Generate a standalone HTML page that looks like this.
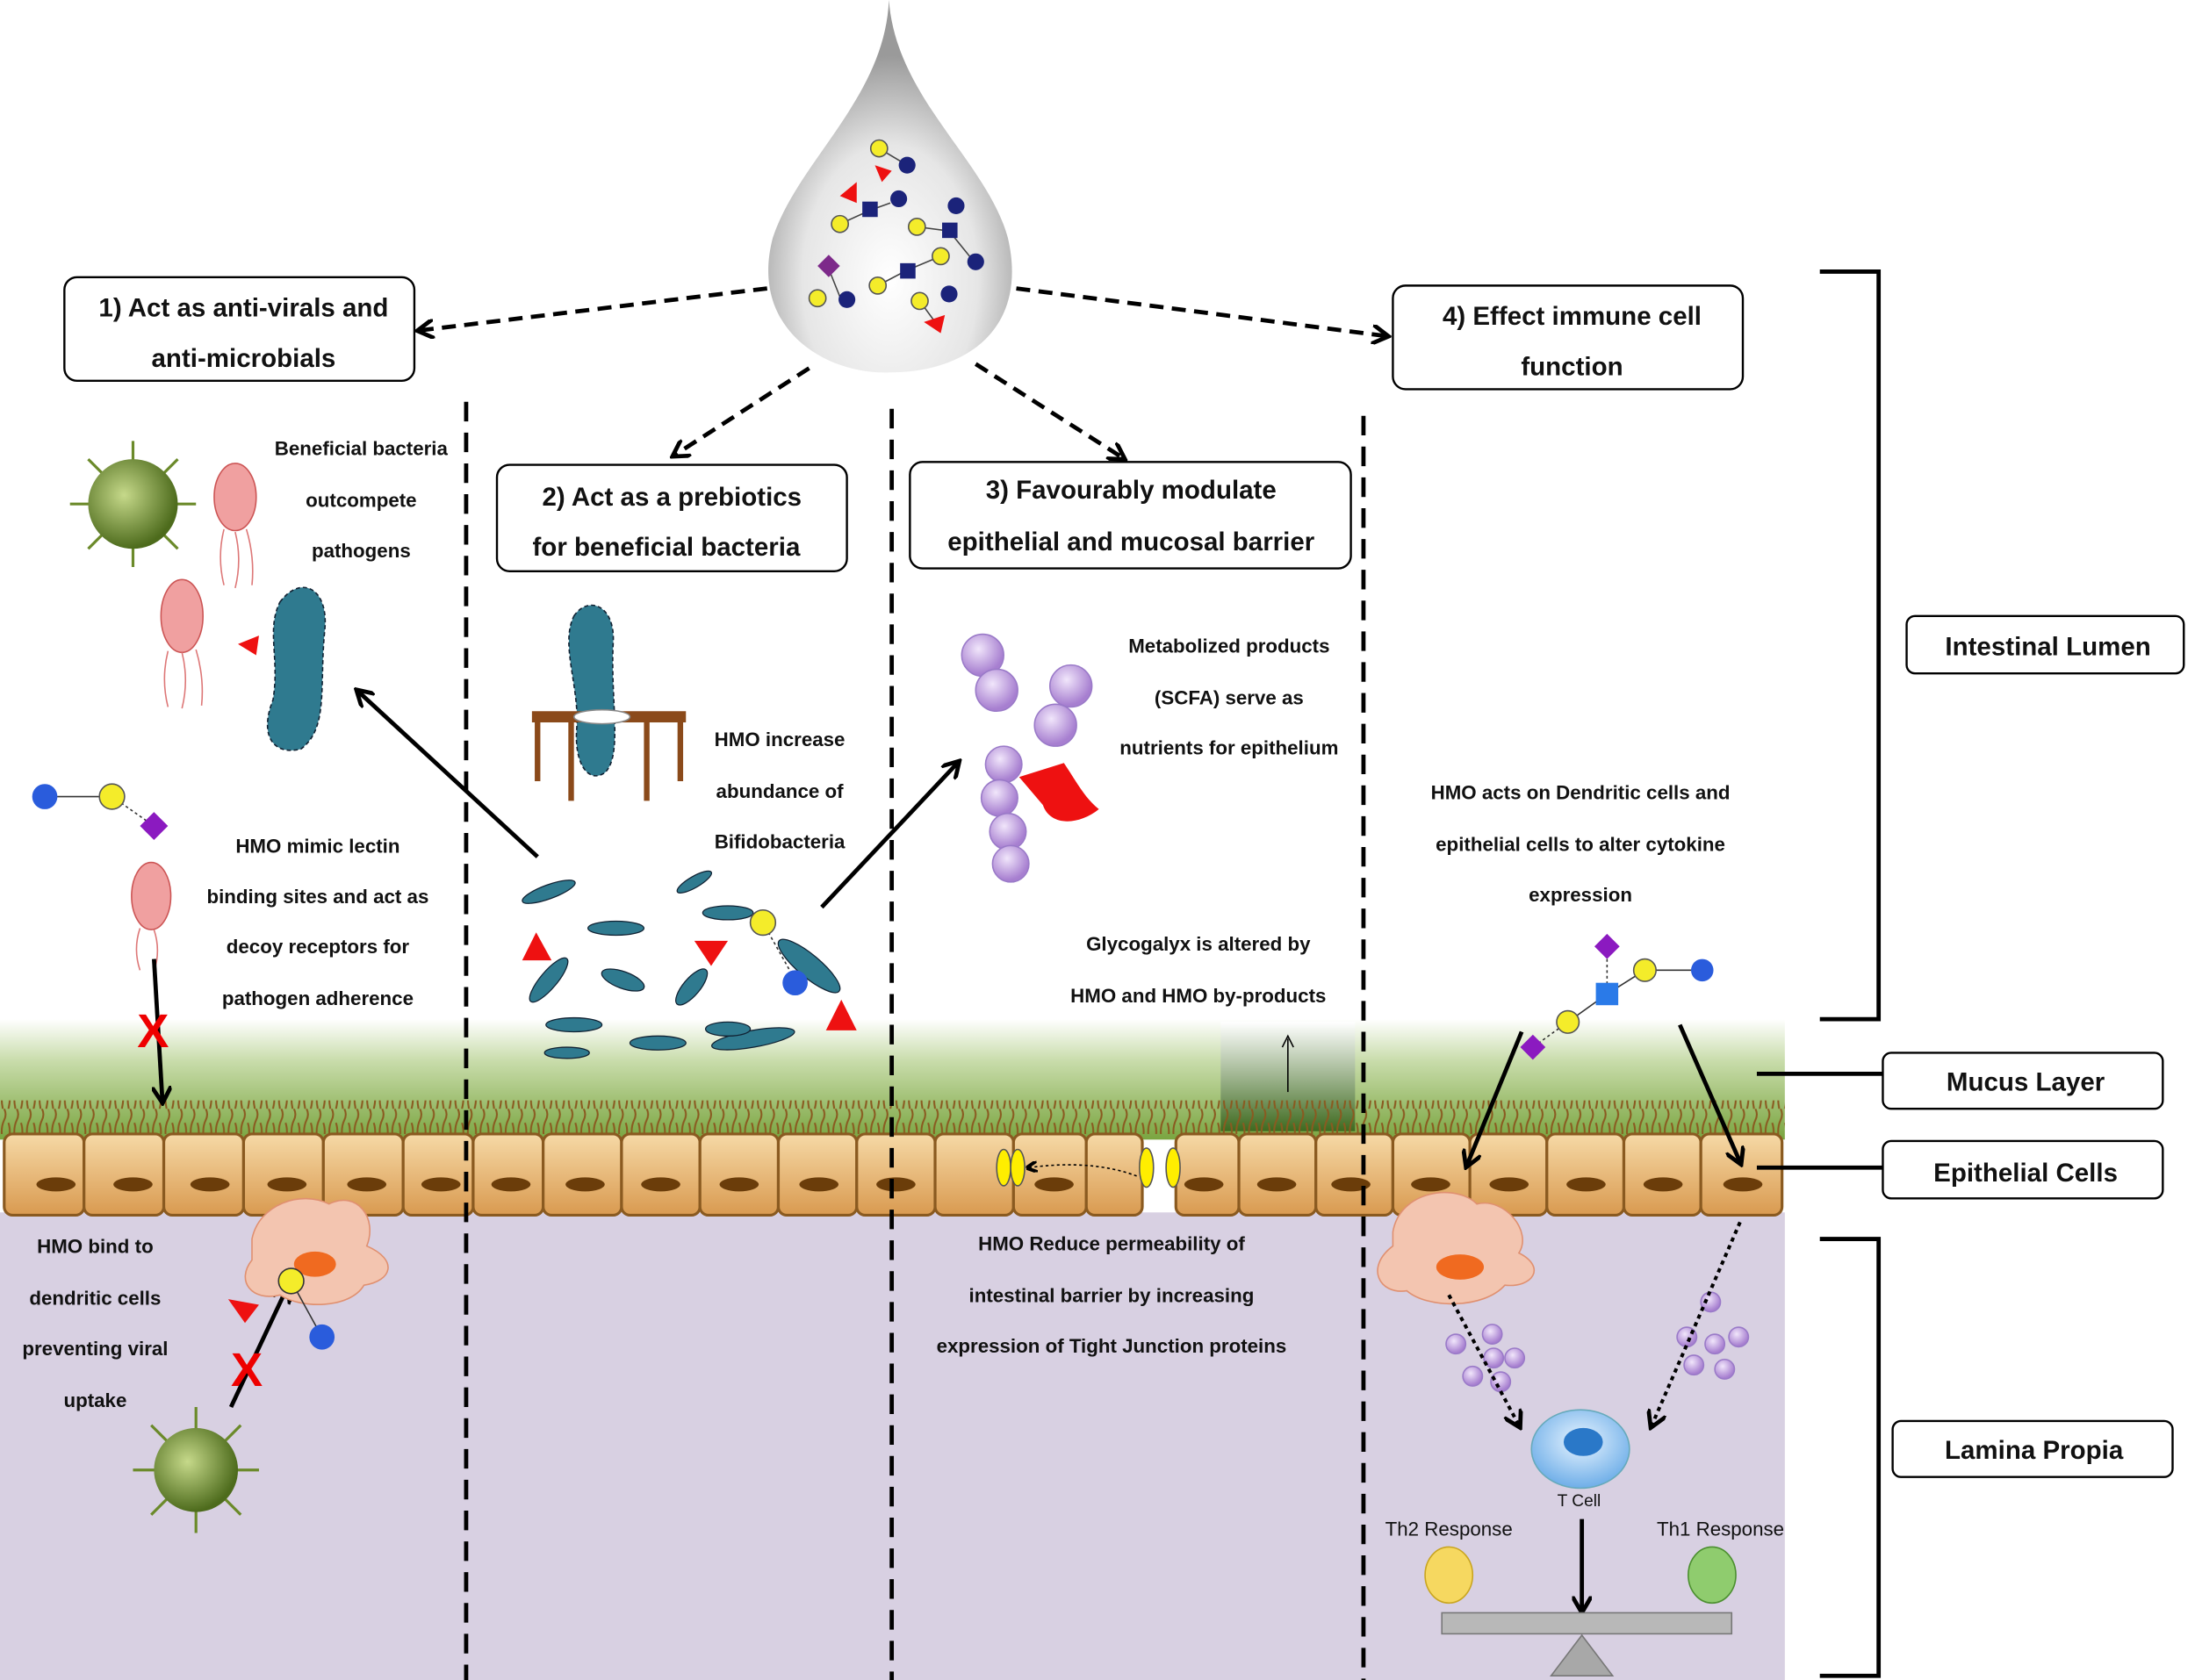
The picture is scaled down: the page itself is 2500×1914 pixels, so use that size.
<!DOCTYPE html>
<html><head><meta charset="utf-8"><style>
html,body{margin:0;padding:0;background:#fff;}
svg{display:block;}
text{font-family:"Liberation Sans",Arial,sans-serif;font-weight:bold;fill:#111;}
</style></head><body>
<svg width="2500" height="1914" viewBox="0 0 1568 1200" preserveAspectRatio="none" xmlns="http://www.w3.org/2000/svg">
<defs>
<linearGradient id="mucus" x1="0" y1="0" x2="0" y2="1">
<stop offset="0" stop-color="#ffffff"/><stop offset="0.35" stop-color="#c8dcaa"/><stop offset="1" stop-color="#7aa540"/></linearGradient>
<radialGradient id="drop" cx="0.5" cy="0.75" r="0.6">
<stop offset="0" stop-color="#ffffff"/><stop offset="0.6" stop-color="#e6e6e6"/><stop offset="1" stop-color="#9a9a9a"/></radialGradient>
<linearGradient id="cell" x1="0" y1="0" x2="0" y2="1">
<stop offset="0" stop-color="#f6d9a6"/><stop offset="1" stop-color="#d99a50"/></linearGradient>
<linearGradient id="glyco" x1="0" y1="0" x2="0" y2="1">
<stop offset="0" stop-color="#ffffff"/><stop offset="1" stop-color="#3e6a1f"/></linearGradient>
<radialGradient id="vir" cx="0.4" cy="0.4" r="0.6"><stop offset="0" stop-color="#c6d98a"/><stop offset="1" stop-color="#4d6b1c"/></radialGradient>
<radialGradient id="pur" cx="0.4" cy="0.35" r="0.6"><stop offset="0" stop-color="#f1e6fb"/><stop offset="1" stop-color="#a77fd0"/></radialGradient>
<radialGradient id="tcell" cx="0.5" cy="0.4" r="0.6"><stop offset="0" stop-color="#e8f4ff"/><stop offset="1" stop-color="#6eaee8"/></radialGradient>
<pattern id="cil" x="0" y="0" width="9" height="24" patternUnits="userSpaceOnUse">
<path d="M2,24 Q0,14 3,8 Q5,4 3,0 M6,24 Q8,16 6,10" fill="none" stroke="#8a5a20" stroke-width="1.3"/>
</pattern>
<marker id="ah" markerWidth="8" markerHeight="8" refX="6" refY="4" orient="auto" markerUnits="userSpaceOnUse"><path d="M0,0 L8,4 L0,8" fill="none" stroke="#000" stroke-width="2.5"/></marker>
<marker id="ahs" markerWidth="14" markerHeight="14" refX="10" refY="7" orient="auto" markerUnits="userSpaceOnUse"><path d="M0,0 L12,7 L0,14" fill="none" stroke="#000" stroke-width="3"/></marker>
</defs>

<rect x="0" y="866" width="1275" height="334" fill="#d8d0e2"/>
<rect x="0" y="728" width="1275" height="86" fill="url(#mucus)"/>
<rect x="872" y="730" width="96" height="78" fill="url(#glyco)"/>
<line x1="920" y1="780" x2="920" y2="742" stroke="#000" stroke-width="1"/>
<path d="M916,748 L920,740 L924,748" fill="none" stroke="#000"/>
<rect x="0" y="786" width="1275" height="24" fill="url(#cil)"/>

<g stroke="#8a5a20" stroke-width="2" fill="url(#cell)">
<rect x="3" y="810" width="57" height="58" rx="6"/><rect x="60" y="810" width="57" height="58" rx="6"/><rect x="117" y="810" width="57" height="58" rx="6"/><rect x="174" y="810" width="57" height="58" rx="6"/><rect x="231" y="810" width="57" height="58" rx="6"/><rect x="288" y="810" width="50" height="58" rx="6"/><rect x="338" y="810" width="50" height="58" rx="6"/><rect x="388" y="810" width="56" height="58" rx="6"/><rect x="444" y="810" width="56" height="58" rx="6"/><rect x="500" y="810" width="56" height="58" rx="6"/><rect x="556" y="810" width="56" height="58" rx="6"/><rect x="612" y="810" width="56" height="58" rx="6"/><rect x="668" y="810" width="56" height="58" rx="6"/><rect x="724" y="810" width="52" height="58" rx="6"/><rect x="776" y="810" width="40" height="58" rx="6"/><rect x="840" y="810" width="45" height="58" rx="6"/><rect x="885" y="810" width="55" height="58" rx="6"/><rect x="940" y="810" width="55" height="58" rx="6"/><rect x="995" y="810" width="55" height="58" rx="6"/><rect x="1050" y="810" width="55" height="58" rx="6"/><rect x="1105" y="810" width="55" height="58" rx="6"/><rect x="1160" y="810" width="55" height="58" rx="6"/><rect x="1215" y="810" width="58" height="58" rx="6"/>
</g>
<g fill="#6b3d0a">
<ellipse cx="40" cy="846" rx="14" ry="5"/><ellipse cx="95" cy="846" rx="14" ry="5"/><ellipse cx="150" cy="846" rx="14" ry="5"/><ellipse cx="205" cy="846" rx="14" ry="5"/><ellipse cx="262" cy="846" rx="14" ry="5"/><ellipse cx="315" cy="846" rx="14" ry="5"/><ellipse cx="365" cy="846" rx="14" ry="5"/><ellipse cx="418" cy="846" rx="14" ry="5"/><ellipse cx="472" cy="846" rx="14" ry="5"/><ellipse cx="528" cy="846" rx="14" ry="5"/><ellipse cx="585" cy="846" rx="14" ry="5"/><ellipse cx="640" cy="846" rx="14" ry="5"/><ellipse cx="753" cy="846" rx="14" ry="5"/><ellipse cx="860" cy="846" rx="14" ry="5"/><ellipse cx="912" cy="846" rx="14" ry="5"/><ellipse cx="965" cy="846" rx="14" ry="5"/><ellipse cx="1022" cy="846" rx="14" ry="5"/><ellipse cx="1078" cy="846" rx="14" ry="5"/><ellipse cx="1133" cy="846" rx="14" ry="5"/><ellipse cx="1188" cy="846" rx="14" ry="5"/><ellipse cx="1245" cy="846" rx="14" ry="5"/>
</g>
<g fill="#ffee00" stroke="#555"><ellipse cx="717" cy="834" rx="5" ry="13"/><ellipse cx="727" cy="834" rx="5" ry="13"/><ellipse cx="819" cy="834" rx="5" ry="14"/><ellipse cx="838" cy="834" rx="5" ry="14"/></g>
<path d="M812,840 Q780,828 735,834" fill="none" stroke="#000" stroke-dasharray="2,2" marker-end="url(#ah)"/>

<g stroke="#000" stroke-width="3" stroke-dasharray="14,8">
<line x1="333" y1="287" x2="333" y2="1200"/><line x1="637" y1="292" x2="637" y2="1200"/><line x1="974" y1="297" x2="974" y2="1200"/>
</g>

<path d="M635,0 C632,70 570,115 552,170 C535,235 590,268 636,266 C690,266 735,235 720,170 C705,115 640,70 635,0 Z" fill="url(#drop)"/>
<g stroke="#444" stroke-width="1">
<line x1="628" y1="106" x2="648" y2="118"/><line x1="600" y1="160" x2="622" y2="150"/><line x1="622" y1="150" x2="636" y2="145"/><line x1="655" y1="162" x2="678" y2="165"/><line x1="678" y1="165" x2="695" y2="186"/><line x1="592" y1="192" x2="600" y2="212"/><line x1="627" y1="204" x2="648" y2="193"/><line x1="648" y1="193" x2="672" y2="183"/><line x1="657" y1="215" x2="668" y2="230"/>
</g>
<circle cx="628" cy="106" r="6" fill="#f4ec2a" stroke="#555"/><circle cx="648" cy="118" r="6" fill="#1b237a"/>
<path d="M600,140 L612,130 L612,145 Z" fill="#e11"/><path d="M625,118 L637,122 L630,130 Z" fill="#e11"/>
<circle cx="600" cy="160" r="6" fill="#f4ec2a" stroke="#555"/><rect x="616" y="144" width="11" height="11" fill="#1b237a"/><circle cx="642" cy="142" r="6" fill="#1b237a"/>
<circle cx="655" cy="162" r="6" fill="#f4ec2a" stroke="#555"/><rect x="673" y="159" width="11" height="11" fill="#1b237a"/><circle cx="683" cy="147" r="6" fill="#1b237a"/><circle cx="672" cy="183" r="6" fill="#f4ec2a" stroke="#555"/><circle cx="697" cy="187" r="6" fill="#1b237a"/>
<path d="M592,182 L600,190 L592,198 L584,190 Z" fill="#7d2a8a"/><circle cx="584" cy="213" r="6" fill="#f4ec2a" stroke="#555"/><circle cx="605" cy="214" r="6" fill="#1b237a"/>
<circle cx="627" cy="204" r="6" fill="#f4ec2a" stroke="#555"/><rect x="643" y="188" width="11" height="11" fill="#1b237a"/>
<circle cx="657" cy="215" r="6" fill="#f4ec2a" stroke="#555"/><circle cx="678" cy="210" r="6" fill="#1b237a"/><path d="M660,230 L675,225 L672,238 Z" fill="#e11"/>

<g stroke="#000" stroke-width="3" stroke-dasharray="10,6" fill="none">
<line x1="548" y1="206" x2="300" y2="236" marker-end="url(#ahs)"/>
<line x1="578" y1="263" x2="482" y2="325" marker-end="url(#ahs)"/>
<line x1="697" y1="260" x2="802" y2="327" marker-end="url(#ahs)"/>
<line x1="726" y1="206" x2="990" y2="240" marker-end="url(#ahs)"/>
</g>

<g fill="#fff" stroke="#000" stroke-width="1.5">
<rect x="46" y="198" width="250" height="74" rx="9"/><rect x="355" y="332" width="250" height="76" rx="9"/><rect x="650" y="330" width="315" height="76" rx="9"/><rect x="995" y="204" width="250" height="74" rx="9"/>
<rect x="1362" y="440" width="198" height="41" rx="6"/><rect x="1345" y="752" width="200" height="40" rx="6"/><rect x="1345" y="815" width="200" height="41" rx="6"/><rect x="1352" y="1015" width="200" height="40" rx="6"/>
</g>
<g font-size="18.5" text-anchor="middle">
<text x="174" y="226">1) Act as anti-virals and</text><text x="174" y="262">anti-microbials</text>
<text x="480" y="361">2) Act as a prebiotics</text><text x="476" y="397">for beneficial bacteria</text>
<text x="808" y="356">3) Favourably modulate</text><text x="808" y="393">epithelial and mucosal barrier</text>
<text x="1123" y="232">4) Effect immune cell</text><text x="1123" y="268">function</text>
<text x="1463" y="468">Intestinal Lumen</text><text x="1447" y="779">Mucus Layer</text><text x="1447" y="844">Epithelial Cells</text><text x="1453" y="1042">Lamina Propia</text>
</g>
<g stroke="#000" stroke-width="3" fill="none">
<path d="M1300,194 H1342 V728 H1300"/><path d="M1300,885 H1342 V1197 H1300"/>
<line x1="1255" y1="767" x2="1345" y2="767"/><line x1="1255" y1="834" x2="1345" y2="834"/>
</g>

<g font-size="14" text-anchor="middle" style="font-weight:600">
<text x="258" y="325">Beneficial bacteria</text><text x="258" y="362">outcompete</text><text x="258" y="398">pathogens</text>
<text x="227" y="609">HMO mimic lectin</text><text x="227" y="645">binding sites and act as</text><text x="227" y="681">decoy receptors for</text><text x="227" y="718">pathogen adherence</text>
<text x="557" y="533">HMO increase</text><text x="557" y="570">abundance of</text><text x="557" y="606">Bifidobacteria</text>
<text x="878" y="466">Metabolized products</text><text x="878" y="503">(SCFA) serve as</text><text x="878" y="539">nutrients for epithelium</text>
<text x="856" y="679">Glycogalyx is altered by</text><text x="856" y="716">HMO and HMO by-products</text>
<text x="1129" y="571">HMO acts on Dendritic cells and</text><text x="1129" y="608">epithelial cells to alter cytokine</text><text x="1129" y="644">expression</text>
<text x="794" y="893">HMO Reduce permeability of</text><text x="794" y="930">intestinal barrier by increasing</text><text x="794" y="966">expression of Tight Junction proteins</text>
<text x="68" y="895">HMO bind to</text><text x="68" y="932">dendritic cells</text><text x="68" y="968">preventing viral</text><text x="68" y="1005">uptake</text>
</g>
<g font-size="14" text-anchor="middle">
<text x="1035" y="1097" style="font-weight:normal">Th2 Response</text><text x="1229" y="1097" style="font-weight:normal">Th1 Response</text><text x="1128" y="1076" font-size="12" style="font-weight:normal">T Cell</text>
</g>

<g stroke="#6b8a2a" stroke-width="2">
<line x1="50" y1="360" x2="140" y2="360"/><line x1="95" y1="315" x2="95" y2="405"/><line x1="63" y1="328" x2="127" y2="392"/><line x1="127" y1="328" x2="63" y2="392"/>
</g>
<circle cx="95" cy="360" r="32" fill="url(#vir)"/>
<g stroke="#6b8a2a" stroke-width="2">
<line x1="95" y1="1050" x2="185" y2="1050"/><line x1="140" y1="1005" x2="140" y2="1095"/><line x1="108" y1="1018" x2="172" y2="1082"/><line x1="172" y1="1018" x2="108" y2="1082"/>
</g>
<circle cx="140" cy="1050" r="30" fill="url(#vir)"/>

<g fill="#f0a0a0" stroke="#c55" stroke-width="1">
<ellipse cx="168" cy="355" rx="15" ry="24"/><ellipse cx="130" cy="440" rx="15" ry="26"/><ellipse cx="108" cy="640" rx="14" ry="24"/>
</g>
<g stroke="#d77" fill="none" stroke-width="1"><path d="M160,378 q-5,20 0,40 M168,380 q5,20 0,40 M176,378 q6,20 4,40"/><path d="M120,465 q-5,20 0,40 M130,466 q5,20 0,40 M140,464 q6,20 4,40"/><path d="M100,663 q-5,15 0,30 M110,664 q5,15 0,30"/></g>

<path d="M200,430 C215,410 235,420 232,450 C228,490 235,520 215,535 C195,540 185,525 195,500 C200,470 190,450 200,430 Z" fill="#2f7a8f" stroke="#123" stroke-dasharray="3,2"/>
<path d="M410,440 C420,425 440,432 438,460 C436,500 445,540 432,552 C420,560 410,545 412,520 C414,490 400,460 410,440 Z" fill="#2f7a8f" stroke="#123" stroke-dasharray="3,2"/>
<path d="M170,460 l15,-6 l-2,14 z" fill="#e11"/>
<rect x="380" y="508" width="110" height="8" fill="#8b4a1a"/><g stroke="#8b4a1a" stroke-width="4"><line x1="384" y1="516" x2="384" y2="558"/><line x1="486" y1="516" x2="486" y2="558"/><line x1="408" y1="516" x2="408" y2="572"/><line x1="462" y1="516" x2="462" y2="572"/></g>
<ellipse cx="430" cy="512" rx="20" ry="5" fill="#fff" stroke="#888"/>

<g fill="#2f7a8f" stroke="#123" stroke-width="0.8">
<ellipse cx="392" cy="637" rx="20" ry="5" transform="rotate(-20 392 637)"/><ellipse cx="440" cy="663" rx="20" ry="5"/><ellipse cx="392" cy="700" rx="20" ry="6" transform="rotate(-50 392 700)"/><ellipse cx="496" cy="630" rx="14" ry="4" transform="rotate(-30 496 630)"/><ellipse cx="520" cy="652" rx="18" ry="5"/><ellipse cx="445" cy="700" rx="16" ry="6" transform="rotate(20 445 700)"/><ellipse cx="494" cy="705" rx="16" ry="6" transform="rotate(-50 494 705)"/><ellipse cx="578" cy="690" rx="28" ry="8" transform="rotate(40 578 690)"/><ellipse cx="410" cy="732" rx="20" ry="5"/><ellipse cx="470" cy="745" rx="20" ry="5"/><ellipse cx="405" cy="752" rx="16" ry="4"/><ellipse cx="538" cy="742" rx="30" ry="6" transform="rotate(-10 538 742)"/><ellipse cx="520" cy="735" rx="16" ry="5"/>
</g>
<path d="M373,686 L383,666 L394,686 Z" fill="#e11"/><path d="M496,672 L520,672 L508,690 Z" fill="#e11"/><path d="M590,736 L601,714 L612,736 Z" fill="#e11"/>
<line x1="545" y1="659" x2="568" y2="700" stroke="#333" stroke-dasharray="2,2"/>
<circle cx="545" cy="659" r="9" fill="#f4ec2a" stroke="#555"/><circle cx="568" cy="702" r="9" fill="#2a5cdc"/>

<line x1="32" y1="569" x2="80" y2="569" stroke="#333"/><line x1="80" y1="569" x2="110" y2="590" stroke="#333" stroke-dasharray="2,2"/>
<circle cx="32" cy="569" r="9" fill="#2a5cdc"/><circle cx="80" cy="569" r="9" fill="#f4ec2a" stroke="#555"/>
<path d="M110,580 L120,590 L110,600 L100,590 Z" fill="#8b1ac0"/>
<line x1="110" y1="685" x2="116" y2="786" stroke="#000" stroke-width="3" marker-end="url(#ahs)"/>
<text x="98" y="748" font-size="34" style="fill:#e00">X</text>

<g stroke="#000" stroke-width="3" fill="none">
<line x1="384" y1="612" x2="256" y2="494" marker-end="url(#ahs)"/>
<line x1="587" y1="648" x2="684" y2="545" marker-end="url(#ahs)"/>
<line x1="165" y1="1005" x2="205" y2="920" marker-end="url(#ahs)"/>
<line x1="1087" y1="737" x2="1048" y2="832" marker-end="url(#ahs)"/>
<line x1="1200" y1="732" x2="1243" y2="830" marker-end="url(#ahs)"/>
<line x1="1130" y1="1085" x2="1130" y2="1150" marker-end="url(#ahs)"/>
</g>
<text x="165" y="990" font-size="34" style="fill:#e00">X</text>

<path d="M180,885 C185,860 215,850 235,860 C255,850 270,870 262,890 C285,900 280,915 260,918 C250,935 215,935 200,925 C180,930 168,915 180,900 Z" fill="#f3c5b0" stroke="#e09070"/>
<ellipse cx="225" cy="903" rx="15" ry="9" fill="#f06a20"/>
<path d="M995,880 C1000,850 1040,845 1055,860 C1075,855 1095,880 1085,895 C1105,905 1095,920 1075,918 C1060,935 1020,935 1005,922 C985,925 975,905 995,890 Z" fill="#f3c5b0" stroke="#e09070"/>
<ellipse cx="1043" cy="905" rx="17" ry="9" fill="#f06a20"/>
<line x1="208" y1="915" x2="230" y2="955" stroke="#333"/>
<circle cx="208" cy="915" r="9" fill="#f4ec2a" stroke="#333"/><circle cx="230" cy="955" r="9" fill="#2a5cdc"/>
<path d="M163,928 L185,932 L175,945 Z" fill="#e11"/>

<g stroke="#333"><line x1="1148" y1="677" x2="1148" y2="710" stroke-dasharray="2,2"/><line x1="1148" y1="710" x2="1175" y2="693"/><line x1="1175" y1="693" x2="1215" y2="693"/><line x1="1148" y1="710" x2="1120" y2="730"/><line x1="1120" y1="730" x2="1095" y2="748" stroke-dasharray="2,2"/></g>
<path d="M1148,667 L1157,676 L1148,685 L1139,676 Z" fill="#8b1ac0"/>
<rect x="1140" y="702" width="16" height="16" fill="#2a7ae8"/><circle cx="1175" cy="693" r="8" fill="#f4ec2a" stroke="#555"/><circle cx="1216" cy="693" r="8" fill="#2a5cdc"/><circle cx="1120" cy="730" r="8" fill="#f4ec2a" stroke="#555"/>
<path d="M1095,739 L1104,748 L1095,757 L1086,748 Z" fill="#8b1ac0"/>

<g fill="url(#pur)" stroke="#9a7ac8">
<circle cx="702" cy="468" r="15"/><circle cx="712" cy="493" r="15"/><circle cx="765" cy="490" r="15"/><circle cx="754" cy="518" r="15"/><circle cx="717" cy="546" r="13"/><circle cx="714" cy="570" r="13"/><circle cx="720" cy="594" r="13"/><circle cx="722" cy="617" r="13"/>
</g>
<path d="M728,555 L760,545 C770,560 775,570 785,578 C770,590 750,590 745,575 Z" fill="#e11"/>
<g fill="url(#pur)" stroke="#9a7ac8">
<circle cx="1040" cy="960" r="7"/><circle cx="1066" cy="953" r="7"/><circle cx="1052" cy="983" r="7"/><circle cx="1067" cy="970" r="7"/><circle cx="1082" cy="970" r="7"/><circle cx="1072" cy="987" r="7"/>
<circle cx="1222" cy="930" r="7"/><circle cx="1205" cy="955" r="7"/><circle cx="1225" cy="960" r="7"/><circle cx="1242" cy="955" r="7"/><circle cx="1210" cy="975" r="7"/><circle cx="1232" cy="978" r="7"/>
</g>
<g stroke="#000" stroke-width="2.5" stroke-dasharray="3,3" fill="none">
<line x1="1035" y1="925" x2="1085" y2="1018" marker-end="url(#ahs)"/><line x1="1243" y1="873" x2="1180" y2="1018" marker-end="url(#ahs)"/>
</g>
<ellipse cx="1129" cy="1035" rx="35" ry="28" fill="url(#tcell)" stroke="#6ab"/>
<ellipse cx="1131" cy="1030" rx="14" ry="10" fill="#2a78c8"/>
<ellipse cx="1035" cy="1125" rx="17" ry="20" fill="#f6d860" stroke="#c9a520"/>
<ellipse cx="1223" cy="1125" rx="17" ry="20" fill="#8fcc6e" stroke="#4b8f2f"/>
<rect x="1030" y="1152" width="207" height="15" fill="#b8b8b8" stroke="#777"/>
<path d="M1108,1197 L1130,1168 L1152,1197 Z" fill="#a8a8a8" stroke="#777"/>
</svg>
</body></html>
